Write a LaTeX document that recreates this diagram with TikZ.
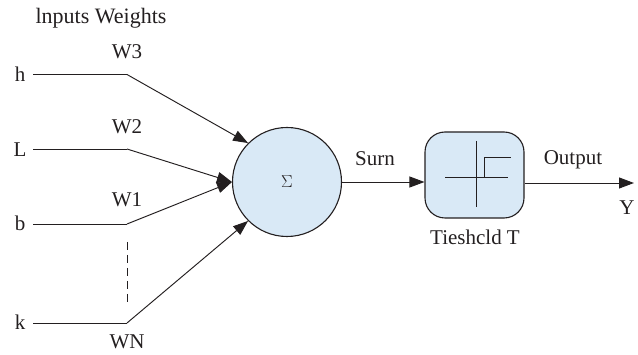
\documentclass[tikz,border=0pt]{standalone}
\usepackage{fontspec}
\setmainfont{Liberation Serif}
\usetikzlibrary{arrows.meta}
\definecolor{fillblue}{HTML}{D9E9F6}
\definecolor{ink}{HTML}{231F20}
\tikzset{
  lab/.style={inner sep=0pt,font=\fontsize{21}{24}\selectfont,text=ink},
  wire/.style={draw=ink,line width=0.95pt},
  arrow/.style={wire,-{Triangle[length=15pt,width=11pt]}},
  blk/.style={draw=ink,line width=1.1pt,fill=fillblue}
}
\begin{document}
\begin{tikzpicture}[x=1pt,y=-1pt]
\useasboundingbox (0,0) rectangle (638,355);
\node[lab,font=\fontsize{22}{24}\selectfont] (title) at (101,18) {lnputs Weights};
\node[lab] (h) at (20,74) {h};
\node[lab] (L) at (20,149.5) {L};
\node[lab] (b) at (20,223) {b};
\node[lab] (k) at (20,322) {k};
\coordinate (hs) at (33,74.5);
\coordinate (Ls) at (33,149);
\coordinate (bs) at (33,224);
\coordinate (ks) at (33,323);
\coordinate (hb) at (127,74.5);
\coordinate (Lb) at (127,149);
\coordinate (bb) at (127,224);
\coordinate (kb) at (127,323);
\node[lab] (w3) at (127,52) {W3};
\node[lab] (w2) at (127,127) {W2};
\node[lab] (w1) at (127,200) {W1};
\node[lab] (wn) at (127,342) {WN};
\node[blk,circle,minimum size=109pt,inner sep=0pt] (sum) at (287,182) {};
\node[lab,font=\fontsize{19}{22}\selectfont] (sig) at (287,182) {$\Sigma$};
\node[blk,rounded corners=20pt,minimum width=99pt,minimum height=86pt,inner sep=0pt] (th) at (474.5,175) {};
\node[lab] (surn) at (375,159) {Surn};
\node[lab] (tt) at (475,237) {Tieshcld T};
\node[lab] (out) at (573,160) {Output};
\node[lab] (y) at (627,208) {Y};
\coordinate (oe) at (634,183);
\coordinate (ds) at (127,242);
\coordinate (de) at (127,305);
\draw[wire] (hs) -- (hb);
\draw[wire] (Ls) -- (Lb);
\draw[wire] (bs) -- (bb);
\draw[wire] (ks) -- (kb);
\draw[arrow] (hb) -- (sum.135);
\draw[arrow] (Lb) -- (sum.180);
\draw[arrow] (bb) -- (sum.180);
\draw[arrow] (kb) -- (sum.225);
\draw[wire,dash pattern=on 8pt off 5pt] (ds) -- (de);
\draw[arrow] (sum.east |- 0,182) -- (th.west |- 0,182);
\draw[arrow] (th.east |- oe) -- (oe);
\draw[wire] (476,141) -- (476,207);
\draw[wire] (445,177) -- (508,177);
\draw[wire] (484,177) -- (484,157) -- (511,157);
\end{tikzpicture}
\end{document}
